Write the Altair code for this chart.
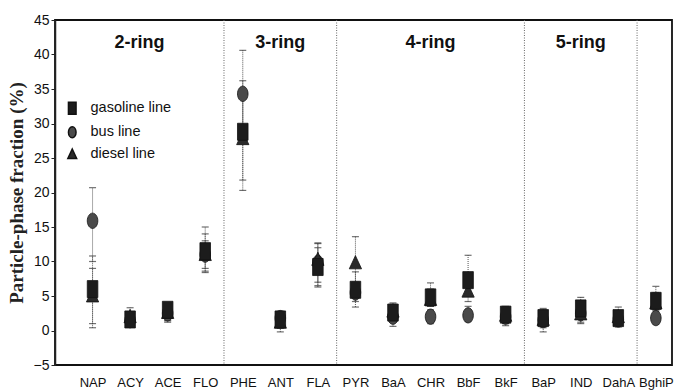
import altair as alt
import pandas as pd

compounds = ["NAP", "ACY", "ACE", "FLO", "PHE", "ANT", "FLA", "PYR", "BaA", "CHR",
             "BbF", "BkF", "BaP", "IND", "DahA", "BghiP"]
ring_names = ["2-ring", "3-ring", "4-ring", "5-ring", ""]
ring_sizes = [4, 3, 5, 3, 1]

series = ["gasoline line", "bus line", "diesel line"]

gasoline_mean = [6.0, 1.6, 3.0, 11.5, 28.8, 1.6, 9.2, 5.9, 2.6, 4.8, 7.3, 2.3, 1.8, 3.2, 1.8, 4.3]
gasoline_lo = [0.4, 1.0, 1.5, 8.4, 21.8, 0.3, 6.5, 3.4, 1.2, 3.5, 5.0, 1.0, 0.6, 1.8, 0.8, 3.0]
gasoline_hi = [10.8, 2.4, 4.0, 15.0, 36.2, 2.6, 12.0, 8.5, 3.8, 6.9, 10.9, 3.4, 3.0, 4.8, 2.8, 6.4]

bus_mean = [15.9, 1.5, 2.5, 11.0, 34.3, 1.8, 9.8, 5.5, 2.0, 2.0, 2.2, 2.0, 1.5, 2.5, 1.6, 1.8]
bus_lo = [10.0, 0.8, 1.2, 9.0, 28.0, 0.6, 7.0, 4.2, 0.6, 1.0, 1.3, 0.7, -0.2, 1.0, 0.5, 0.9]
bus_hi = [20.7, 2.3, 3.8, 13.0, 40.6, 2.8, 12.7, 7.0, 3.6, 3.0, 3.5, 3.3, 3.2, 4.0, 2.6, 2.8]

diesel_mean = [5.0, 2.0, 2.6, 11.0, 27.8, 1.2, 10.3, 9.8, 2.8, 4.5, 5.7, 2.2, 1.6, 2.4, 2.0, 4.0]
diesel_lo = [1.0, 1.2, 1.4, 8.6, 20.3, -0.2, 6.3, 6.5, 1.5, 3.5, 4.2, 1.0, 0.4, 1.2, 1.0, 3.0]
diesel_hi = [9.0, 3.3, 3.8, 14.0, 35.0, 2.4, 12.6, 13.6, 4.0, 6.0, 8.0, 3.5, 2.8, 3.8, 3.4, 5.5]

y_ticks = [-5, 0, 5, 10, 15, 20, 25, 30, 35, 40, 45]

# ---- build tables ----
rows = []
for s, m, lo, hi in [
    ("gasoline line", gasoline_mean, gasoline_lo, gasoline_hi),
    ("bus line", bus_mean, bus_lo, bus_hi),
    ("diesel line", diesel_mean, diesel_lo, diesel_hi),
]:
    for i, c in enumerate(compounds):
        rows.append({"compound": c, "x": i + 1, "series": s, "mean": m[i], "lo": lo[i], "hi": hi[i]})
df = pd.DataFrame(rows)

# group separators and group label positions
seps, labels = [], []
start_idx = 0
prev_edge = 0.0
for name, n in zip(ring_names, ring_sizes):
    end_idx = start_idx + n
    edge = end_idx + 0.5
    if end_idx < len(compounds):
        seps.append({"xs": edge})
    if name:
        labels.append({"ring": name, "xm": (prev_edge + edge) / 2, "yv": 41.7})
    prev_edge = edge
    start_idx = end_idx
sep_df = pd.DataFrame(seps)
lab_df = pd.DataFrame(labels)

label_font = "Liberation Sans Narrow, Liberation Sans, Arial"
x_domain = [0, 16.43]

xscale = alt.Scale(domain=x_domain, nice=False, zero=False)
yscale = alt.Scale(domain=[-5, 45], nice=False, zero=False)

label_expr = "[" + ",".join("'" + c + "'" for c in compounds) + "][datum.value - 1]"

x_axis = alt.Axis(values=list(range(1, len(compounds) + 1)), labelExpr=label_expr, title=None,
                  ticks=False, domain=False, grid=False, labelFont=label_font, labelFontSize=13,
                  labelColor="#111", labelPadding=11, labelAngle=0, labelOverlap=False)
y_axis = alt.Axis(values=y_ticks, title="Particle-phase fraction (%)", grid=False,
                  tickSize=4, tickColor="#222", domainColor="#222", domainWidth=1.5,
                  labelFont=label_font, labelFontSize=14, labelColor="#111", labelPadding=2,
                  labelOverlap=False, labelFlush=False,
                  titleFont="Liberation Serif", titleFontSize=19, titleFontWeight="bold",
                  titleColor="#222", titlePadding=7)

X = lambda f: alt.X(f, scale=xscale, axis=x_axis)
Y = lambda f: alt.Y(f, scale=yscale, axis=y_axis)

# tall marker shapes (scanned-figure look)
shape_rect = "M-0.62,-1L0.62,-1L0.62,1L-0.62,1Z"
shape_ellipse = "M0,-0.9A0.62,0.9,0,1,1,0,0.9A0.62,0.9,0,1,1,0,-0.9Z"
shape_tri = "M0,-0.85L0.72,0.7L-0.72,0.7Z"

base = alt.Chart(df)

sep = alt.Chart(sep_df).mark_rule(color="#666", strokeDash=[1, 1.5], strokeWidth=1).encode(
    x=X("xs:Q"),
)

err = base.mark_rule(color="#555", strokeDash=[1, 1], strokeWidth=1).encode(
    x=X("x:Q"), y=Y("lo:Q"), y2="hi:Q",
)
cap_hi = base.mark_tick(color="#333", thickness=1.2, size=7, orient="horizontal").encode(
    x=X("x:Q"), y=Y("hi:Q")
)
cap_lo = base.mark_tick(color="#333", thickness=1.2, size=7, orient="horizontal").encode(
    x=X("x:Q"), y=Y("lo:Q")
)

legend_cfg = dict(title=None, orient="none", legendX=10, legendY=81,
                  labelFont=label_font, labelFontSize=14.5, labelColor="#111",
                  symbolSize=150, rowPadding=5, labelOffset=11)

pts = base.mark_point(filled=True, opacity=1, stroke="#111", strokeWidth=0.8).encode(
    x=X("x:Q"),
    y=Y("mean:Q"),
    shape=alt.Shape("series:N", sort=series,
                    scale=alt.Scale(domain=series, range=[shape_rect, shape_ellipse, shape_tri]),
                    legend=alt.Legend(**legend_cfg)),
    color=alt.Color("series:N", sort=series,
                    scale=alt.Scale(domain=series, range=["#1c1c1c", "#4a4a4a", "#2a2a2a"]),
                    legend=alt.Legend(**legend_cfg)),
    size=alt.value(290),
    order=alt.Order("series:N", sort="ascending"),
)

ring_text = alt.Chart(lab_df).mark_text(font=label_font, fontSize=18, fontWeight="bold",
                                         color="#111", baseline="middle", align="center").encode(
    x=X("xm:Q"),
    y=Y("yv:Q"),
    text="ring:N",
)

chart = alt.layer(sep, err, cap_hi, cap_lo, pts, ring_text).properties(
    width=617, height=345,
    padding={"left": 55, "top": 20, "right": 4, "bottom": 27},
    autosize=alt.AutoSizeParams(type="none"),
    background="white",
).configure_view(stroke="#111", strokeWidth=1.8)

chart.save("out.html", embed_options={"renderer": "svg", "actions": False})
